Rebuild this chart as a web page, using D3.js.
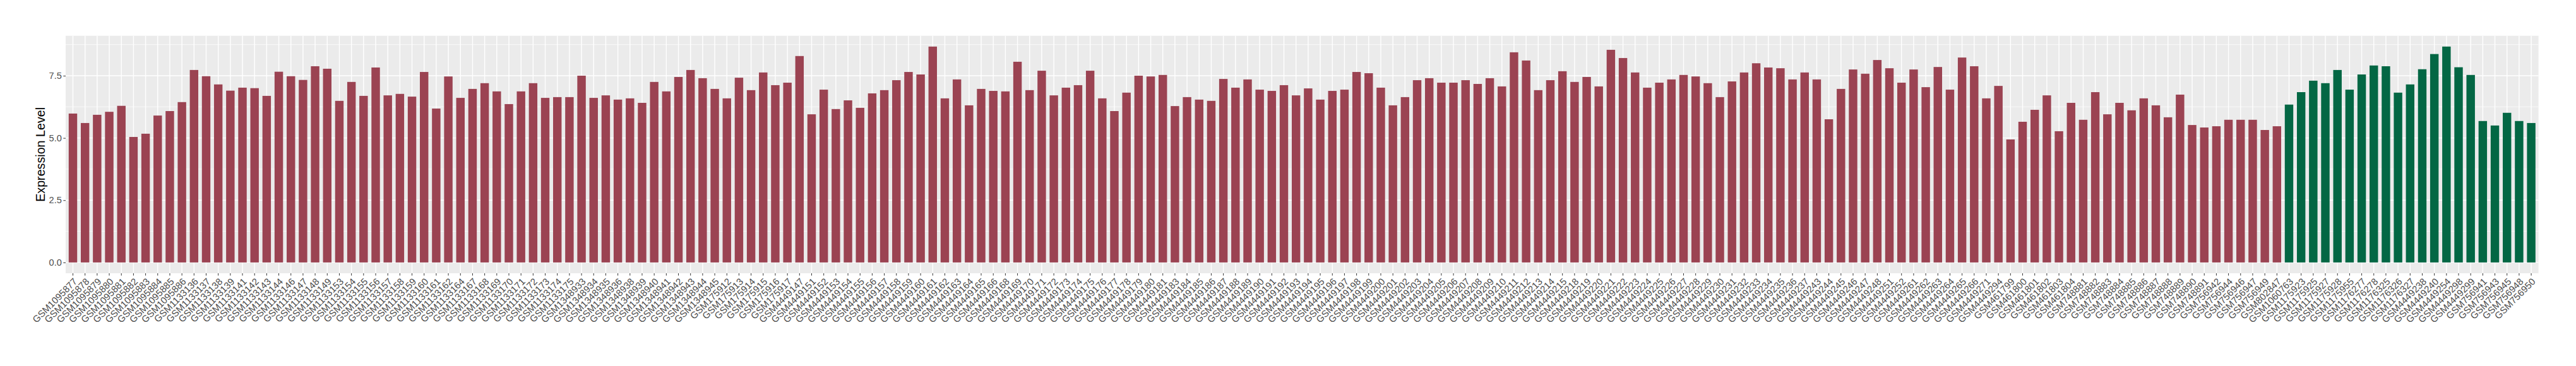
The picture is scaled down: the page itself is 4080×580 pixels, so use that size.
<!DOCTYPE html>
<html>
<head>
<meta charset="utf-8">
<script src="https://cdn.jsdelivr.net/npm/d3@7"></script>
<style>
  body { margin: 0; background: #fff; }
  text { font-family: "Liberation Sans", Arial, Helvetica, sans-serif; }
</style>
</head>
<body>
<div id="chart"></div>
<script>
// tumour samples (red)
var tumorSamples = [
  "GSM1095877","GSM1095878","GSM1095879","GSM1095880","GSM1095881","GSM1095882","GSM1095883","GSM1095884","GSM1095885","GSM1095886",
  "GSM1133136","GSM1133137","GSM1133138","GSM1133139","GSM1133141","GSM1133142","GSM1133143","GSM1133144","GSM1133146","GSM1133147",
  "GSM1133148","GSM1133149","GSM1133153","GSM1133154","GSM1133155","GSM1133156","GSM1133157","GSM1133158","GSM1133159","GSM1133160",
  "GSM1133161","GSM1133162","GSM1133164","GSM1133167","GSM1133168","GSM1133169","GSM1133170","GSM1133171","GSM1133172","GSM1133173",
  "GSM1133174","GSM1133175","GSM1348933","GSM1348934","GSM1348935","GSM1348936","GSM1348938","GSM1348939","GSM1348940","GSM1348941",
  "GSM1348942","GSM1348943","GSM1348944","GSM1348945","GSM175912","GSM175913","GSM175914","GSM175915","GSM175916","GSM175917",
  "GSM4449147","GSM4449151","GSM4449152","GSM4449153","GSM4449154","GSM4449155","GSM4449156","GSM4449157","GSM4449158","GSM4449159",
  "GSM4449160","GSM4449161","GSM4449162","GSM4449163","GSM4449164","GSM4449165","GSM4449166","GSM4449168","GSM4449169","GSM4449170",
  "GSM4449171","GSM4449172","GSM4449173","GSM4449174","GSM4449175","GSM4449176","GSM4449177","GSM4449178","GSM4449179","GSM4449180",
  "GSM4449181","GSM4449183","GSM4449184","GSM4449185","GSM4449186","GSM4449187","GSM4449188","GSM4449189","GSM4449190","GSM4449191",
  "GSM4449192","GSM4449193","GSM4449194","GSM4449195","GSM4449196","GSM4449197","GSM4449198","GSM4449199","GSM4449200","GSM4449201",
  "GSM4449202","GSM4449203","GSM4449204","GSM4449205","GSM4449206","GSM4449207","GSM4449208","GSM4449209","GSM4449210","GSM4449211",
  "GSM4449212","GSM4449213","GSM4449214","GSM4449215","GSM4449218","GSM4449219","GSM4449220","GSM4449221","GSM4449222","GSM4449223",
  "GSM4449224","GSM4449225","GSM4449226","GSM4449227","GSM4449228","GSM4449229","GSM4449230","GSM4449231","GSM4449232","GSM4449233",
  "GSM4449234","GSM4449235","GSM4449236","GSM4449237","GSM4449243","GSM4449244","GSM4449245","GSM4449246","GSM4449247","GSM4449248",
  "GSM4449251","GSM4449252","GSM4449261","GSM4449262","GSM4449263","GSM4449264","GSM4449265","GSM4449266","GSM4449271","GSM4449294",
  "GSM461799","GSM461800","GSM461801","GSM461802","GSM461803","GSM461804","GSM748881","GSM748882","GSM748883","GSM748884",
  "GSM748885","GSM748886","GSM748887","GSM748888","GSM748889","GSM748890","GSM748891","GSM756942","GSM756944","GSM756946",
  "GSM756947","GSM756949","GSM802847"
];
var tumorValues = [
  5.98,5.60,5.93,6.05,6.29,5.04,5.17,5.90,6.08,6.44,
  7.73,7.48,7.15,6.90,7.02,7.00,6.69,7.66,7.48,7.33,
  7.88,7.78,6.49,7.25,6.69,7.83,6.71,6.77,6.66,7.65,
  6.18,7.47,6.61,6.97,7.20,6.87,6.36,6.87,7.20,6.61,
  6.64,6.64,7.50,6.61,6.71,6.54,6.59,6.41,7.25,6.87,
  7.45,7.73,7.40,6.97,6.59,7.42,6.92,7.63,7.12,7.22,
  8.29,5.95,6.94,6.16,6.51,6.21,6.79,6.92,7.32,7.65,
  7.55,8.67,6.59,7.35,6.31,6.97,6.89,6.87,8.06,6.92,
  7.70,6.71,7.02,7.12,7.70,6.59,6.08,6.82,7.50,7.47,
  7.53,6.28,6.64,6.54,6.49,7.37,7.02,7.35,6.94,6.89,
  7.12,6.71,6.99,6.54,6.89,6.94,7.65,7.60,7.02,6.31,
  6.64,7.32,7.40,7.22,7.22,7.32,7.17,7.40,7.07,8.44,
  8.11,6.92,7.32,7.68,7.25,7.45,7.07,8.54,8.21,7.63,
  7.02,7.22,7.35,7.53,7.47,7.20,6.64,7.27,7.63,8.00,
  7.83,7.80,7.35,7.63,7.35,5.75,6.97,7.75,7.58,8.13,
  7.80,7.22,7.75,7.04,7.85,6.94,8.23,7.88,6.59,7.09,
  4.94,5.65,6.13,6.71,5.27,6.41,5.73,6.84,5.95,6.41,
  6.11,6.59,6.31,5.83,6.74,5.52,5.42,5.47,5.73,5.73,
  5.73,5.32,5.47
];

// normal samples (green)
var normalSamples = [
  "GSM1060763","GSM1175923","GSM1175925","GSM1175927","GSM1175928","GSM1175955","GSM1176277","GSM1176278","GSM1176325","GSM1176326",
  "GSM1176327","GSM4449238","GSM4449240","GSM4449254","GSM4449298","GSM4449299","GSM756941","GSM756943","GSM756945","GSM756948",
  "GSM756950"
];
var normalValues = [
  6.34,6.84,7.30,7.20,7.73,6.94,7.55,7.91,7.88,6.82,
  7.15,7.76,8.37,8.67,7.84,7.53,5.68,5.50,6.01,5.68,
  5.60
];

var yTicks = [0, 2.5, 5, 7.5];
var yMinorTicks = [1.25, 3.75, 6.25, 8.75];
var groupColors = {tumor: "#9b4352", normal: "#036744"};

var data = tumorSamples.map(function(s, i) { return {sample: s, value: tumorValues[i], group: "tumor"}; })
  .concat(normalSamples.map(function(s, i) { return {sample: s, value: normalValues[i], group: "normal"}; }));

var width = 4080, height = 580;
var margin = {top: 56.7, right: 59.4, bottom: 147, left: 104};
var plotW = width - margin.left - margin.right,
    plotH = height - margin.top - margin.bottom;

var svg = d3.select("#chart").append("svg")
    .attr("width", width)
    .attr("height", height)
    .style("display", "block");

var x = d3.scaleBand()
    .domain(data.map(function(d) { return d.sample; }))
    .range([0, plotW])
    .paddingInner(0.3)
    .paddingOuter(0.25);

var yMax = d3.max(data, function(d) { return d.value; });
var y = d3.scaleLinear()
    .domain([-0.05 * yMax, 1.05 * yMax])
    .range([plotH, 0]);

var g = svg.append("g")
    .attr("transform", "translate(" + margin.left + "," + margin.top + ")");

g.append("rect")
    .attr("width", plotW)
    .attr("height", plotH)
    .attr("fill", "#ebebeb");

g.selectAll("line.minor")
  .data(yMinorTicks)
  .enter().append("line")
    .attr("class", "minor")
    .attr("x1", 0).attr("x2", plotW)
    .attr("y1", y).attr("y2", y)
    .attr("stroke", "#fff")
    .attr("stroke-width", 0.7);

g.selectAll("line.major")
  .data(yTicks)
  .enter().append("line")
    .attr("class", "major")
    .attr("x1", 0).attr("x2", plotW)
    .attr("y1", y).attr("y2", y)
    .attr("stroke", "#fff")
    .attr("stroke-width", 1.4);

g.selectAll("line.vgrid")
  .data(data)
  .enter().append("line")
    .attr("class", "vgrid")
    .attr("x1", function(d) { return x(d.sample) + x.bandwidth() / 2; })
    .attr("x2", function(d) { return x(d.sample) + x.bandwidth() / 2; })
    .attr("y1", 0).attr("y2", plotH)
    .attr("stroke", "#fff")
    .attr("stroke-width", 1.4);

g.selectAll("rect.bar")
  .data(data)
  .enter().append("rect")
    .attr("class", "bar")
    .attr("x", function(d) { return x(d.sample); })
    .attr("width", x.bandwidth())
    .attr("y", function(d) { return y(d.value); })
    .attr("height", function(d) { return y(0) - y(d.value); })
    .attr("fill", function(d) { return groupColors[d.group]; });

// y axis
var yAxis = g.append("g")
    .call(d3.axisLeft(y).tickValues(yTicks).tickSize(3.7).tickPadding(2.5)
      .tickFormat(d3.format(".1f")));
yAxis.select(".domain").remove();
yAxis.selectAll("line").attr("stroke", "#333");
yAxis.selectAll("text")
    .attr("fill", "#4d4d4d")
    .style("font-size", "14.6px");

// x axis
var xAxis = g.append("g")
    .attr("transform", "translate(0," + plotH + ")")
    .call(d3.axisBottom(x).tickSize(3.7).tickSizeOuter(0));
xAxis.select(".domain").remove();
xAxis.selectAll("line").attr("stroke", "#333");
xAxis.selectAll("text")
    .attr("fill", "#4d4d4d")
    .style("font-size", "15px")
    .attr("text-anchor", "end")
    .attr("x", 0)
    .attr("y", 0)
    .attr("dy", "0.72em")
    .attr("transform", "translate(0,6.5) rotate(-45)");

svg.append("text")
    .attr("transform", "translate(71," + (margin.top + plotH / 2) + ") rotate(-90)")
    .attr("text-anchor", "middle")
    .attr("fill", "#000")
    .style("font-size", "19.7px")
    .text("Expression Level");
</script>
</body>
</html>
